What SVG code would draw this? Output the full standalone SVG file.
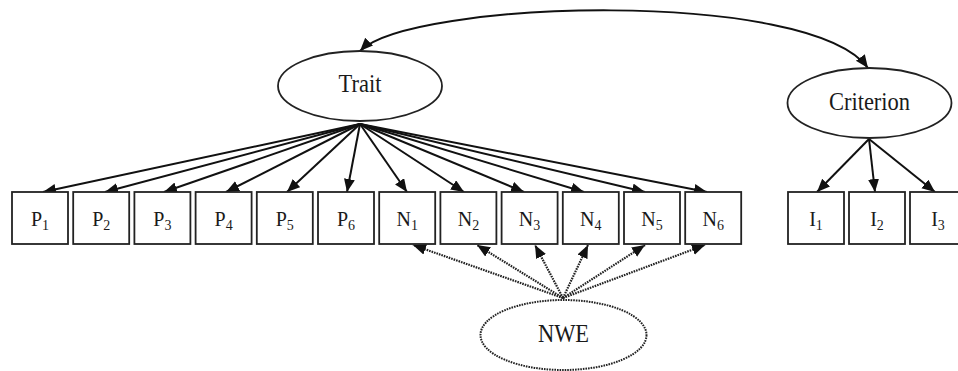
<svg xmlns="http://www.w3.org/2000/svg" width="958" height="371" viewBox="0 0 958 371">
<style>
.box{fill:#fff;stroke:#222;stroke-width:1.8}
.ell{fill:#fff;stroke:#222;stroke-width:1.8}
.dot{stroke-dasharray:1.6 1;stroke-width:2}
.lbl{font-family:"Liberation Serif","Times New Roman",serif;font-size:20px;fill:#1a1a1a;text-anchor:middle}
.big{font-family:"Liberation Serif","Times New Roman",serif;font-size:22.5px;fill:#1a1a1a;text-anchor:middle}
.sub{font-size:14px}
.arr{fill:none;stroke:#111;stroke-width:2;marker-end:url(#ah)}
.darr{fill:none;stroke:#222;stroke-width:2.2;stroke-dasharray:1.6 1;marker-end:url(#ah)}
</style>
<defs>
<marker id="ah" markerUnits="userSpaceOnUse" markerWidth="14" markerHeight="12" refX="13" refY="5.5" orient="auto-start-reverse" viewBox="0 0 14 12">
<path d="M0,0 L13,5.5 L0,11 z" fill="#111"/>
</marker>
</defs>
<rect width="958" height="371" fill="#fff"/>
<g id="connectors">
<path class="arr" d="M360,51 C410,0 810,-12 868,68" marker-start="url(#ah)"/>
<line class="arr" x1="360" y1="124" x2="43" y2="192"/>
<line class="arr" x1="360" y1="124" x2="105" y2="192"/>
<line class="arr" x1="360" y1="124" x2="164" y2="192"/>
<line class="arr" x1="360" y1="124" x2="226" y2="192"/>
<line class="arr" x1="360" y1="124" x2="287" y2="192"/>
<line class="arr" x1="360" y1="124" x2="347" y2="192"/>
<line class="arr" x1="360" y1="124" x2="407" y2="192"/>
<line class="arr" x1="360" y1="124" x2="464" y2="192"/>
<line class="arr" x1="360" y1="124" x2="524" y2="192"/>
<line class="arr" x1="360" y1="124" x2="584" y2="192"/>
<line class="arr" x1="360" y1="124" x2="645" y2="192"/>
<line class="arr" x1="360" y1="124" x2="707" y2="192"/>
<line class="arr" x1="869" y1="139" x2="817" y2="192"/>
<line class="arr" x1="869" y1="139" x2="875" y2="192"/>
<line class="arr" x1="869" y1="139" x2="935" y2="192"/>
<line class="darr" x1="563" y1="298" x2="413" y2="245"/>
<line class="darr" x1="563" y1="298" x2="477" y2="245"/>
<line class="darr" x1="563" y1="298" x2="535" y2="245"/>
<line class="darr" x1="563" y1="298" x2="588" y2="245"/>
<line class="darr" x1="563" y1="298" x2="645" y2="245"/>
<line class="darr" x1="563" y1="298" x2="705" y2="245"/>
</g>
<g id="trait"><ellipse class="ell" cx="360" cy="86" rx="82" ry="35"/><text class="big" transform="translate(360,92) scale(1,1.13)">Trait</text></g>
<g id="criterion"><ellipse class="ell" cx="869.5" cy="103" rx="82" ry="35"/><text class="big" transform="translate(869.5,110) scale(1,1.13)">Criterion</text></g>
<g id="nwe"><ellipse class="ell dot" cx="563.5" cy="335" rx="83" ry="35"/><text class="big" transform="translate(563.5,342) scale(1,1.13)">NWE</text></g>
<g id="P1"><rect class="box" x="12" y="192" width="56" height="52"/><text class="lbl" x="40" y="226">P<tspan class="sub" dy="4">1</tspan></text></g>
<g id="P2"><rect class="box" x="73.2" y="192" width="56" height="52"/><text class="lbl" x="101.2" y="226">P<tspan class="sub" dy="4">2</tspan></text></g>
<g id="P3"><rect class="box" x="134.4" y="192" width="56" height="52"/><text class="lbl" x="162.4" y="226">P<tspan class="sub" dy="4">3</tspan></text></g>
<g id="P4"><rect class="box" x="195.6" y="192" width="56" height="52"/><text class="lbl" x="223.6" y="226">P<tspan class="sub" dy="4">4</tspan></text></g>
<g id="P5"><rect class="box" x="256.8" y="192" width="56" height="52"/><text class="lbl" x="284.8" y="226">P<tspan class="sub" dy="4">5</tspan></text></g>
<g id="P6"><rect class="box" x="318" y="192" width="56" height="52"/><text class="lbl" x="346" y="226">P<tspan class="sub" dy="4">6</tspan></text></g>
<g id="N1"><rect class="box" x="379.2" y="192" width="56" height="52"/><text class="lbl" x="407.2" y="226">N<tspan class="sub" dy="4">1</tspan></text></g>
<g id="N2"><rect class="box" x="440.4" y="192" width="56" height="52"/><text class="lbl" x="468.4" y="226">N<tspan class="sub" dy="4">2</tspan></text></g>
<g id="N3"><rect class="box" x="501.6" y="192" width="56" height="52"/><text class="lbl" x="529.6" y="226">N<tspan class="sub" dy="4">3</tspan></text></g>
<g id="N4"><rect class="box" x="562.8" y="192" width="56" height="52"/><text class="lbl" x="590.8" y="226">N<tspan class="sub" dy="4">4</tspan></text></g>
<g id="N5"><rect class="box" x="624" y="192" width="56" height="52"/><text class="lbl" x="652" y="226">N<tspan class="sub" dy="4">5</tspan></text></g>
<g id="N6"><rect class="box" x="685.2" y="192" width="56" height="52"/><text class="lbl" x="713.2" y="226">N<tspan class="sub" dy="4">6</tspan></text></g>
<g id="I1"><rect class="box" x="788" y="192" width="56" height="52"/><text class="lbl" x="816" y="226">I<tspan class="sub" dy="4">1</tspan></text></g>
<g id="I2"><rect class="box" x="849" y="192" width="56" height="52"/><text class="lbl" x="877" y="226">I<tspan class="sub" dy="4">2</tspan></text></g>
<g id="I3"><rect class="box" x="910" y="192" width="56" height="52"/><text class="lbl" x="938" y="226">I<tspan class="sub" dy="4">3</tspan></text></g>
</svg>
